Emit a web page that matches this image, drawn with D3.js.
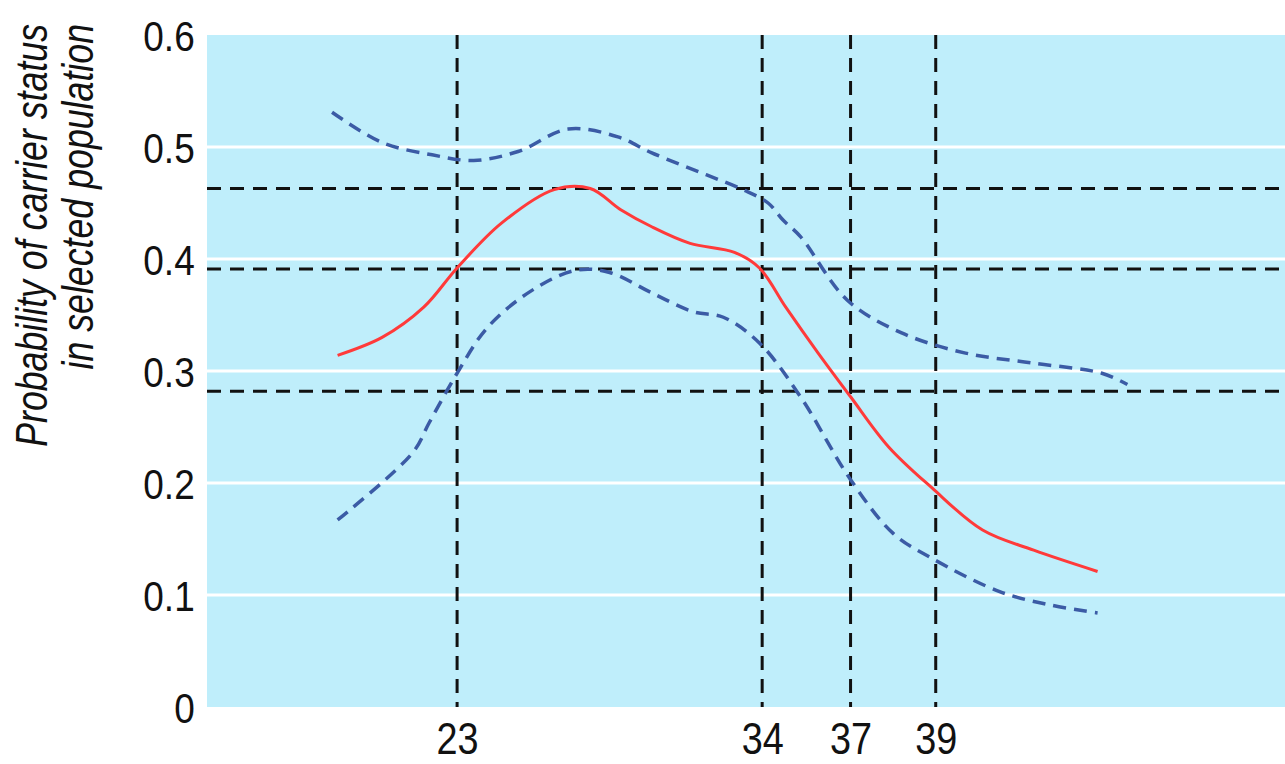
<!DOCTYPE html>
<html>
<head>
<meta charset="utf-8">
<script src="https://cdn.jsdelivr.net/npm/d3@7"></script>
<style>
    body { margin: 0; background: #fff; }
    #chart { width: 1285px; height: 764px; }
    .tick-lbl { font-family: "Liberation Sans", Arial, sans-serif; fill: #111; }
</style>
</head>
<body>
<div id="chart"></div>
<script>
//Datos
const yTicks = [0, 0.1, 0.2, 0.3, 0.4, 0.5, 0.6];
const xTicks = [23, 34, 37, 39];
const refLevels = [0.463, 0.391, 0.282];

const probEstimada = [
    [18.7, 0.314], [20.3, 0.330], [21.8, 0.357], [23.0, 0.392], [24.6, 0.432],
    [26.5, 0.462], [27.8, 0.463], [28.9, 0.444], [30.0, 0.429], [31.4, 0.414],
    [33.0, 0.406], [33.9, 0.392], [34.8, 0.357], [35.9, 0.316], [37.0, 0.277],
    [37.9, 0.232], [38.9, 0.196], [40.1, 0.158], [41.3, 0.140], [42.8, 0.121]
];
const limiteSuperior = [
    [18.5, 0.531], [20.3, 0.504], [22.1, 0.493], [23.6, 0.488], [25.2, 0.496],
    [27.0, 0.516], [28.8, 0.509], [30.0, 0.495], [31.8, 0.477], [33.3, 0.462],
    [34.2, 0.450], [34.7, 0.435], [35.3, 0.420], [36.9, 0.363], [38.2, 0.334],
    [39.7, 0.316], [41.3, 0.307], [42.9, 0.298], [43.5, 0.288]
];
const limiteInferior = [
    [18.7, 0.167], [21.4, 0.227], [22.0, 0.254], [23.0, 0.298], [24.1, 0.339],
    [25.7, 0.372], [27.3, 0.390], [28.5, 0.388], [30.0, 0.370], [31.5, 0.353],
    [32.6, 0.348], [33.9, 0.325], [35.3, 0.277], [37.0, 0.203], [38.0, 0.155],
    [38.9, 0.133], [40.5, 0.103], [41.7, 0.091], [42.8, 0.084]
];

//Eje x no lineal: tramos entre las marcas
const xStops = [14, 23, 34, 37, 39, 47.2];
const xFrac = [0, 0.232, 0.515, 0.597, 0.676, 1];

const COLOR_FONDO = '#bfeefb',
    COLOR_ROJO = '#ff3a3a',
    COLOR_AZUL = '#3b5ba5';

let margin = {top: 35, right: 0, bottom: 57, left: 207},
    width = 1285 - margin.left - margin.right,
    height = 764 - margin.top - margin.bottom;

let svg = d3.select('#chart')
    .append('svg')
        .attr('width', width + margin.left + margin.right)
        .attr('height', height + margin.top + margin.bottom)
    .append('g')
        .attr('transform', 'translate(' + margin.left + ',' + margin.top + ')');

let x = d3.scaleLinear()
    .domain(xStops)
    .range(xFrac.map(function(f) { return f * width; }));

let y = d3.scaleLinear()
    .domain([0, 0.6])
    .range([height, 0]);

svg.append('rect')
    .attr('width', width)
    .attr('height', height)
    .attr('fill', COLOR_FONDO);

// Lineas de rejilla blancas
svg.append('g')
    .selectAll('line')
    .data(yTicks.filter(function(d) { return d > 0 && d < 0.6; }))
    .enter()
    .append('line')
    .attr('x1', 0)
    .attr('x2', width)
    .attr('y1', function(d) { return y(d); })
    .attr('y2', function(d) { return y(d); })
    .attr('stroke', '#fff')
    .attr('stroke-width', 3);

// Eje Y
let yAxis = function(g) {
    g.call(d3.axisLeft(y).tickValues(yTicks).tickSize(0).tickPadding(0)
        .tickFormat(function(d) { return d === 0 ? '0' : d3.format('.1f')(d); }));
    g.call(function(g) { g.select('.domain').remove(); });
    g.selectAll('text')
        .attr('class', 'tick-lbl')
        .attr('fill', null)
        .attr('x', -14)
        .attr('transform', 'scale(0.88,1)')
        .style('font-size', '42px')
        .attr('dy', '0.36em');
}
svg.append('g').call(yAxis);

// Eje X
let xAxis = function(g) {
    g.call(d3.axisBottom(x).tickValues(xTicks).tickSize(0).tickPadding(0));
    g.call(function(g) { g.select('.domain').remove(); });
    g.selectAll('text')
        .attr('class', 'tick-lbl')
        .attr('fill', null)
        .attr('y', 47)
        .attr('dy', 0)
        .attr('transform', 'scale(0.86,1)')
        .style('font-size', '44px');
}
svg.append('g')
    .attr('transform', 'translate(0,' + height + ')')
    .call(xAxis);

// Lineas de referencia discontinuas
svg.append('g')
    .selectAll('line')
    .data(xTicks)
    .enter()
    .append('line')
    .attr('x1', function(d) { return x(d); })
    .attr('x2', function(d) { return x(d); })
    .attr('y1', 0)
    .attr('y2', height)
    .attr('stroke', '#111')
    .attr('stroke-width', 3)
    .attr('stroke-dasharray', '14,9');

svg.append('g')
    .selectAll('line')
    .data(refLevels)
    .enter()
    .append('line')
    .attr('x1', 0)
    .attr('x2', width)
    .attr('y1', function(d) { return y(d); })
    .attr('y2', function(d) { return y(d); })
    .attr('stroke', '#111')
    .attr('stroke-width', 3)
    .attr('stroke-dasharray', '14,9');

// Curvas
let line = d3.line()
    .x(function(d) { return x(d[0]); })
    .y(function(d) { return y(d[1]); })
    .curve(d3.curveCatmullRom.alpha(0.5));

[limiteSuperior, limiteInferior].forEach(function(serie) {
    svg.append('path')
        .datum(serie)
        .attr('d', line)
        .attr('fill', 'none')
        .attr('stroke', COLOR_AZUL)
        .attr('stroke-width', 3.5)
        .attr('stroke-dasharray', '13,8');
});

svg.append('path')
    .datum(probEstimada)
    .attr('d', line)
    .attr('fill', 'none')
    .attr('stroke', COLOR_ROJO)
    .attr('stroke-width', 3);

// Titulo del eje Y (alineado al extremo superior, letra estrecha)
let yTitle = d3.select('#chart svg').append('text')
    .attr('text-anchor', 'end')
    .attr('class', 'tick-lbl')
    .style('font-style', 'italic')
    .style('font-size', '44px');

let linea1 = yTitle.append('tspan')
    .attr('x', 0)
    .attr('y', 47)
    .text('Probability of carrier status');

yTitle.append('tspan')
    .attr('x', 0)
    .attr('y', 93)
    .text('in selected population');

let escala = 423 / linea1.node().getComputedTextLength();
yTitle.attr('transform', 'translate(0,24) rotate(-90) scale(' + escala + ',1)');
</script>
</body>
</html>
